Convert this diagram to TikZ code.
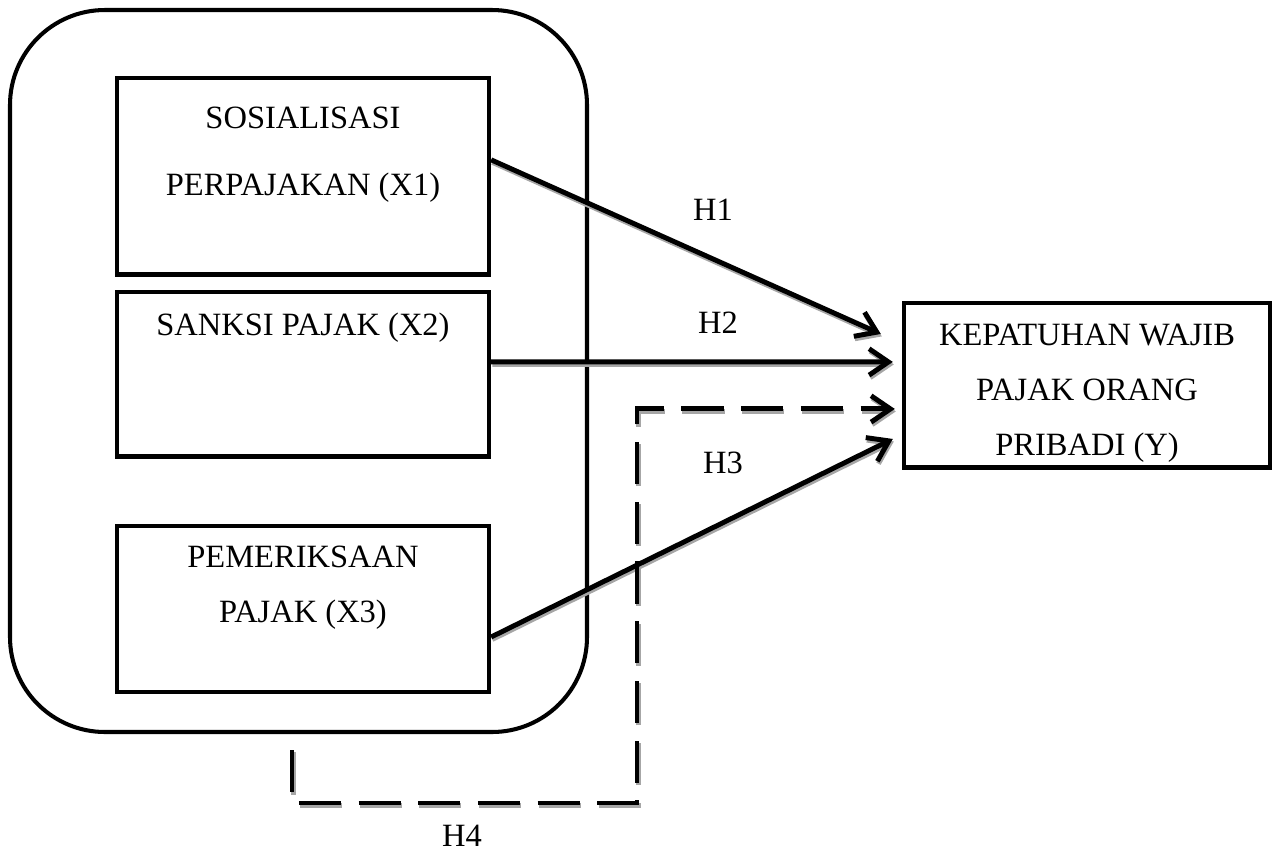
\documentclass[tikz,border=0pt]{standalone}
\usepackage{fontspec}
\setmainfont{Liberation Serif}
\usetikzlibrary{arrows.meta}

\begin{document}
\begin{tikzpicture}[
    font=\fontsize{18.5pt}{31.2pt}\selectfont,
    >={Straight Barb[length=11pt,width=15pt]},
    varbox/.style={rectangle, draw, line width=2.5pt, inner sep=0pt, align=center, anchor=north},
    arr/.style={->, line width=2.8pt},
    dashline/.style={arr, dash pattern=on 24pt off 10pt},
    lbl/.style={inner sep=0pt}
]
    \useasboundingbox (0,0) rectangle (25.52,-17.08);
    % Group of the three variables
    \node[draw, line width=2.3pt, rounded corners=1.9cm, minimum width=11.54cm, minimum height=14.44cm] (grup) at (5.97,-7.42) {};
    \node[varbox, minimum width=7.44cm, text height=66.6pt, text depth=45.1pt] (x1box) at (6.06,-1.52) {SOSIALISASI\\[6.8pt]PERPAJAKAN (X1)};
    \node[varbox, minimum width=7.44cm, text height=24.4pt, text depth=69.2pt] (x2box) at (6.06,-5.8) {SANKSI PAJAK (X2)};
    \node[varbox, minimum width=7.44cm, text height=54.6pt, text depth=39.6pt] (x3box) at (6.06,-10.48) {PEMERIKSAAN\\PAJAK (X3)};
    \node[varbox, minimum width=7.32cm, text height=86.5pt, text depth=7.1pt] (ybox) at (21.74,-6.02) {KEPATUHAN WAJIB\\PAJAK ORANG\\PRIBADI (Y)};

    % Hypotheses, gray shadow first
    \coordinate (h4start) at (5.84,-15.0);
    \coordinate (h4turn) at (12.74,-16.06);
    \foreach \col/\dx/\dy in {black!35/0.6pt/-1.4pt, black/0pt/0pt} {
        \begin{scope}[color=\col, transform canvas={shift={(\dx,\dy)}}]
            \draw[arr] ([yshift=0.33cm]x1box.east) -- ([xshift=-0.42cm,yshift=1.03cm]ybox.west);
            \draw[arr] ([yshift=0.25cm]x2box.east) -- ([xshift=-0.18cm,yshift=0.47cm]ybox.west);
            \draw[arr] ([yshift=-0.56cm]x3box.east) -- ([xshift=-0.18cm,yshift=-1.07cm]ybox.west);
            \draw[dashline] (h4start) |- (h4turn) |- ([xshift=-0.14cm,yshift=-0.47cm]ybox.west);
        \end{scope}
    }

    \node[lbl] (h1) at (14.26,-4.2) {H1};
    \node[lbl] (h2) at (14.36,-6.46) {H2};
    \node[lbl] (h3) at (14.46,-9.26) {H3};
    \node[lbl] (h4) at (9.24,-16.72) {H4};
\end{tikzpicture}
\end{document}
